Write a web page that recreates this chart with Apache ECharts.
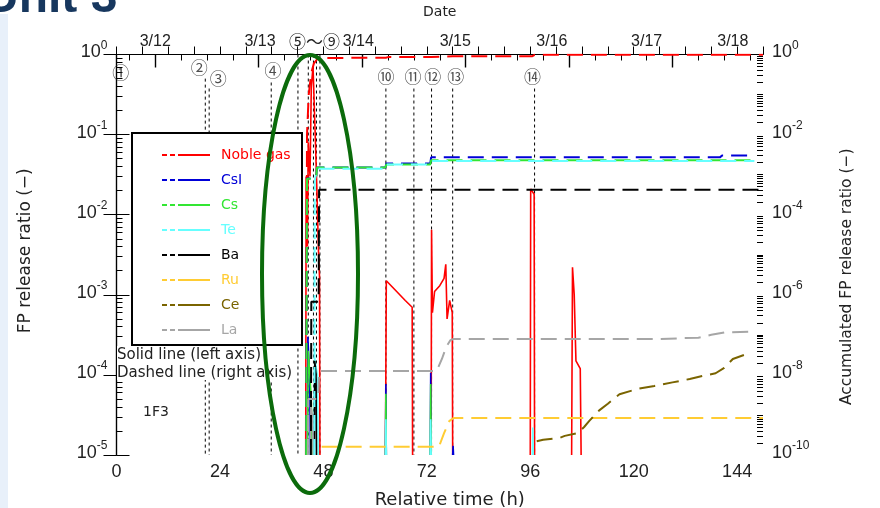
<!DOCTYPE html>
<html>
<head>
<meta charset="utf-8">
<script src="https://cdn.jsdelivr.net/npm/echarts@6/dist/echarts.min.js"></script>
<style>
  html, body { margin: 0; padding: 0; background: #fff; }
  #chart { width: 880px; height: 508px; }
</style>
</head>
<body>
<div id="chart"></div>
<script>
// species shown in the legend
const species = ['Noble gas', 'CsI', 'Cs', 'Te', 'Ba', 'Ru', 'Ce', 'La']
const colors = ['#ff0000', '#0000d8', '#33e633', '#66ffff', '#000000', '#ffcc33', '#7a6400', '#a6a6a6']

// release ratio (left axis, solid) [hour, value], null breaks the line
const nobleRate = [[43.9, 1e-5], [44.0, 0.03], [44.3, 0.004], [44.5, 0.08], [44.9, 0.03], [45.2, 0.4], [45.6, 0.7], [46.0, 0.15], [46.5, 0.02], [46.9, 0.003], [47.1, 0.0017], [47.2, 1e-5], [47.3, null],
  [62.4, 1e-5], [62.6, 1.5e-3], [63.0, 1.5e-3], [65.0, 1.1e-3], [67.0, 8.5e-4], [68.6, 7e-4], [68.7, 1e-5], [68.8, null],
  [73.0, 1e-5], [73.1, 6.5e-3], [73.3, 6e-4], [73.8, 1.1e-3], [75.0, 1.3e-3], [76.0, 1.6e-3], [76.4, 2.4e-3], [76.7, 5e-4], [77.3, 8.5e-4], [77.9, 6e-4], [78.0, 1e-5], [78.1, null],
  [96.0, 1e-5], [96.1, 2.1e-2], [96.9, 1.8e-2], [97.0, 1e-5], [97.1, null],
  [105.6, 1e-5], [105.8, 2.2e-3], [106.2, 1e-3], [106.4, 1e-3], [106.6, 1.5e-4], [107.6, 1.2e-4], [107.8, 1e-5]]
const csiRate = [[44.3, 1e-5], [44.4, 3e-4], [44.8, 1e-4], [45.0, 1e-5], [45.1, null],
  [62.4, 1e-5], [62.5, 7.7e-5], [62.6, 1e-5], [62.7, null],
  [72.8, 1e-5], [72.9, 1.06e-4], [73.0, 1e-5], [73.1, null],
  [78.0, 1e-5], [78.1, 1.3e-5], [78.2, 1e-5]]
const csRate = [[44.3, 1e-5], [44.5, 2e-4], [45.2, 5e-5], [45.4, 1e-5], [45.5, null],
  [62.4, 1e-5], [62.5, 5.8e-5], [62.6, 1e-5], [62.7, null],
  [72.8, 1e-5], [72.9, 7.7e-5], [73.0, 1e-5]]
const teRate = [[45.8, 1e-5], [46.0, 1.6e-4], [46.6, 1e-4], [46.8, 1e-5], [46.9, null],
  [62.4, 1e-5], [62.5, 2.8e-5], [62.6, 1e-5], [62.7, null],
  [72.8, 1e-5], [72.9, 2.8e-5], [73.0, 1e-5], [73.1, null],
  [96.5, 1e-5], [96.6, 2.2e-5], [96.7, 1e-5]]
const baRate = [[45.9, 1e-5], [46.0, 1.5e-4], [46.3, 1e-4], [46.4, 1e-5]]
const ruRate = []
const ceRate = []
const laRate = [[45.0, 1e-5], [45.1, 4e-5], [45.5, 3e-5], [45.6, 1e-5]]

// accumulated release ratio (right axis, dashed)
const nobleCum = [[44.0, 1e-10], [44.2, 0.01], [44.6, 0.1], [45.2, 0.35], [45.8, 0.6], [46.5, 0.75], [47.0, 0.82], [62.5, 0.83], [63.0, 0.86], [73.0, 0.87], [78.0, 0.9], [96.5, 0.91], [97.0, 0.98], [150, 0.98]]
const csiCum = [[44.0, 1e-10], [44.2, 8e-4], [46.3, 8e-4], [46.5, 1.5e-3], [62.4, 1.5e-3], [62.6, 1.9e-3], [72.8, 1.9e-3], [73.0, 2.7e-3], [140, 2.7e-3], [140.5, 3e-3], [148, 3e-3]]
const csCum = [[44.0, 1e-10], [44.2, 7.9e-4], [46.3, 7.9e-4], [46.5, 1.5e-3], [62.4, 1.5e-3], [62.6, 1.8e-3], [72.8, 1.8e-3], [73.0, 2.3e-3], [148, 2.3e-3]]
const teCum = [[45.9, 1e-10], [46.0, 7e-4], [46.5, 1.4e-3], [62.4, 1.4e-3], [62.6, 1.8e-3], [72.8, 1.8e-3], [73.0, 2.2e-3], [148, 2.2e-3]]
const baCum = [[45.1, 1e-10], [45.2, 6.7e-7], [46.9, 6.7e-7], [47.0, 4.2e-4], [149, 4.2e-4]]
const ruCum = [[47.6, 1.6e-10], [74.8, 1.6e-10], [76.0, 3.5e-10], [77.2, 7e-10], [78.2, 8.4e-10], [150, 8.4e-10]]
const ceCum = [[97.5, 2.2e-10], [99, 2.4e-10], [102.8, 2.66e-10], [104, 3e-10], [107, 3.5e-10], [108.5, 5e-10], [109.7, 7.1e-10], [111, 1e-9], [112, 1.3e-9], [114, 1.9e-9], [116.7, 3.3e-9], [121, 4.5e-9], [124.8, 5.3e-9], [129, 6.5e-9], [133, 7.9e-9], [136, 9.4e-9], [139, 1.1e-8], [141, 1.5e-8], [143, 2.5e-8], [146.8, 3.5e-8]]
const laCum = [[44.4, 1e-10], [44.5, 2.5e-9], [46.8, 2.5e-9], [47.0, 1.26e-8], [74.3, 1.26e-8], [75.5, 2.5e-8], [76.5, 5e-8], [77.5, 7.4e-8], [78.2, 7.9e-8], [126, 7.9e-8], [135, 8.5e-8], [138, 1e-7], [141, 1.15e-7], [147.5, 1.2e-7]]

const rates = [nobleRate, csiRate, csRate, teRate, baRate, ruRate, ceRate, laRate]
const cums = [nobleCum, csiCum, csCum, teCum, baCum, ruCum, ceCum, laCum]

// event markers: hour, top of the dashed line (left axis), label
const eventHours = [20.6, 21.5, 35.9, 42.1, 44.5, 45.7, 46.4, 47.2, 62.5, 69.0, 73.1, 78.0, 97.0]
const eventTops = [0.5, 0.376, 0.447, 1, 1, 1, 1, 1, 0.376, 0.376, 0.376, 0.376, 0.376]
const eventLabels = [[1.0, 0.59, '①'], [19.2, 0.69, '②'], [23.6, 0.5, '③'], [36.3, 0.63, '④'],
  [62.5, 0.53, '⑩'], [68.8, 0.53, '⑪'], [73.4, 0.53, '⑫'], [78.7, 0.53, '⑬'], [96.5, 0.53, '⑭']]

// top date axis
const dayStartHours = [9, 33, 57, 81, 105, 129]
const dateLabelHours = [9, 33.3, 56.1, 78.6, 101, 123, 143]
const dateLabels = ['3/12', '3/13', '3/14', '3/15', '3/16', '3/17', '3/18']
const sixHourTicks = [3, 9, 15, 21, 27, 33, 39, 45, 51, 57, 63, 69, 75, 81, 87, 93, 99, 105, 111, 117, 123, 129, 135, 141, 147]

// log axis ticks (minor ones are given as exponents for the overlay axes)
const leftMajor = [1e-5, 1e-4, 1e-3, 1e-2, 1e-1, 1]
const rightMajor = [1e-10, 1e-8, 1e-6, 1e-4, 1e-2, 1]
const leftMinorExp = []
for (let e = -5; e < 0; e++) for (let m = 2; m <= 9; m++) leftMinorExp.push(e + Math.log10(m))
const rightMinorExp = []
for (let e = -10; e < 0; e++) {
  if (e % 2 !== 0) rightMinorExp.push(e)
  for (let m = 2; m <= 9; m++) rightMinorExp.push(e + Math.log10(m))
}

const FONT = 'Liberation Sans'
const WIDE = 'DejaVu Sans'
const CJK = 'Noto Sans CJK JP'

function powLabel(v) {
  const e = Math.round(Math.log10(v))
  return '{b|10}{s|' + (e === 0 ? '0' : '-' + (-e)) + '}'
}
const powRich = {
  b: { fontSize: 18, lineHeight: 22, fontFamily: FONT, color: '#222', verticalAlign: 'bottom' },
  s: { fontSize: 12, lineHeight: 12, fontFamily: FONT, color: '#222', verticalAlign: 'top' }
}

function logAxis(pos, min, ticks, extra) {
  return Object.assign({
    type: 'log',
    logBase: 10,
    position: pos,
    min: min,
    max: 1,
    splitLine: { show: false },
    axisLine: { show: true, lineStyle: { color: '#000', width: 1.2 } },
    axisTick: { show: true, inside: true, length: 13, customValues: ticks, lineStyle: { color: '#000', width: 1 } },
    axisLabel: { show: true, customValues: ticks, formatter: powLabel, rich: powRich, margin: 9, padding: [0, 0, 8, 0] }
  }, extra || {})
}
// plain axis over the exponent range, only used to draw the short log ticks
function minorAxis(pos, minExp, ticks) {
  return {
    type: 'value',
    position: pos,
    min: minExp,
    max: 0,
    splitLine: { show: false },
    axisLine: { show: true, lineStyle: { color: 'rgba(0,0,0,0)' } },
    axisTick: { show: true, inside: true, length: 6, customValues: ticks, lineStyle: { color: '#000', width: 1 } },
    axisLabel: { show: false }
  }
}

const series = []

series.push({
  name: 'events',
  type: 'line',
  xAxisIndex: 0,
  yAxisIndex: 0,
  silent: true,
  symbol: 'none',
  lineStyle: { color: '#000', width: 1, type: [3, 3] },
  data: eventHours.flatMap((h, i) => [[h, eventTops[i]], [h, 1e-5], [h + 0.01, null]]),
  z: 1
})

species.forEach((name, i) => {
  series.push({
    name: name,
    type: 'line',
    xAxisIndex: 0,
    yAxisIndex: 0,
    symbol: 'none',
    color: colors[i],
    itemStyle: { color: colors[i] },
    lineStyle: { color: colors[i], width: 1.6 },
    data: rates[i]
  })
})
species.forEach((name, i) => {
  series.push({
    name: name,
    type: 'line',
    xAxisIndex: 0,
    yAxisIndex: 2,
    symbol: 'none',
    color: colors[i],
    itemStyle: { color: colors[i] },
    lineStyle: { color: colors[i], width: 2, type: [16, 8] },
    data: cums[i]
  })
})

series.push({
  name: 'eventLabels',
  type: 'scatter',
  xAxisIndex: 0,
  yAxisIndex: 0,
  symbolSize: 0,
  silent: true,
  clip: false,
  label: {
    show: true,
    position: 'inside',
    formatter: p => p.data[2],
    fontFamily: CJK,
    fontSize: 17,
    color: '#222'
  },
  data: eventLabels
})

const option = {
  backgroundColor: '#fff',
  animation: false,
  textStyle: { fontFamily: FONT },
  grid: { left: 116.5, right: 117, top: 54.5, bottom: 53, containLabel: false, outerBoundsMode: 'none' },
  legend: {
    left: 162,
    top: 148,
    orient: 'vertical',
    selectedMode: false,
    itemWidth: 48,
    itemHeight: 2,
    itemGap: 11,
    padding: 0,
    z: 10,
    icon: 'path://M0 0H5V2H0Z M8 0H13V2H8Z M16 0H48V2H16Z',
    textStyle: { fontSize: 14, fontFamily: WIDE, padding: [0, 0, 0, 6] },
    data: species.map((s, i) => ({ name: s, itemStyle: { color: colors[i] }, textStyle: { color: colors[i] } }))
  },
  xAxis: [
    {
      type: 'value',
      position: 'bottom',
      min: 0,
      max: 150,
      interval: 6,
      name: 'Relative time (h)',
      nameLocation: 'middle',
      nameGap: 36,
      nameTextStyle: { fontSize: 18, fontFamily: WIDE, color: '#222', padding: [0, 0, 0, 20] },
      splitLine: { show: false },
      axisLine: { lineStyle: { color: '#000', width: 1.2 } },
      axisTick: { inside: true, length: 8, lineStyle: { color: '#000' } },
      axisLabel: { fontSize: 18, color: '#222', margin: 8, formatter: v => (v % 24 === 0 ? String(v) : '') }
    },
    {
      type: 'value',
      position: 'top',
      min: 0,
      max: 150,
      splitLine: { show: false },
      axisLine: { lineStyle: { color: '#000', width: 1.2 } },
      axisTick: { inside: true, length: 6, customValues: sixHourTicks, lineStyle: { color: '#000' } },
      axisLabel: { show: false }
    },
    {
      type: 'value',
      position: 'top',
      min: 0,
      max: 150,
      name: 'Date',
      nameLocation: 'middle',
      nameGap: 35,
      nameTextStyle: { fontSize: 14, fontFamily: WIDE, color: '#222' },
      splitLine: { show: false },
      axisLine: { show: false },
      axisTick: { inside: true, length: 13, customValues: dayStartHours, lineStyle: { color: '#000', width: 1.4 } },
      axisLabel: {
        customValues: dateLabelHours,
        fontSize: 16,
        color: '#222',
        margin: 5,
        formatter: v => {
          let best = 0
          dateLabelHours.forEach((h, i) => { if (Math.abs(h - v) < Math.abs(dateLabelHours[best] - v)) best = i })
          return dateLabels[best]
        }
      }
    }
  ],
  yAxis: [
    logAxis('left', 1e-5, leftMajor, {
      name: 'FP release ratio (−)',
      nameLocation: 'middle',
      nameRotate: 90,
      nameGap: 82,
      nameTextStyle: { fontSize: 17, fontFamily: WIDE, color: '#222', padding: [0, 0, 0, 8] }
    }),
    minorAxis('left', -5, leftMinorExp),
    logAxis('right', 1e-10, rightMajor, {
      name: 'Accumulated FP release ratio (−)',
      nameLocation: 'middle',
      nameRotate: 90,
      nameGap: 76,
      nameTextStyle: { fontSize: 15.5, fontFamily: WIDE, color: '#222', padding: [0, 44, 0, 0] }
    }),
    minorAxis('right', -10, rightMinorExp)
  ],
  graphic: [
    { type: 'rect', z: 0, shape: { x: 0, y: 14, width: 8, height: 494 }, style: { fill: '#e8f0fa' } },
    { type: 'text', z: 0, left: -16, top: -25, style: { text: 'Unit 3', font: 'bold 48px "Liberation Sans"', fill: '#17375e' } },
    { type: 'rect', z: 5, shape: { x: 132, y: 133, width: 170, height: 212 }, style: { fill: '#fff', stroke: '#000', lineWidth: 2 } },
    { type: 'rect', z: 5, shape: { x: 117, y: 346, width: 168, height: 34 }, style: { fill: '#fff' } },
    { type: 'text', z: 6, left: 117, top: 348, style: { text: 'Solid line (left axis)', font: '15px "DejaVu Sans"', fill: '#222' } },
    { type: 'text', z: 6, left: 117, top: 366, style: { text: 'Dashed line (right axis)', font: '15px "DejaVu Sans"', fill: '#222' } },
    { type: 'text', z: 6, left: 143, top: 405, style: { text: '1F3', font: '14px "DejaVu Sans"', fill: '#222' } },
    { type: 'text', z: 6, left: 289, top: 33, style: { text: '⑤〜⑨', font: '17px "Noto Sans CJK JP"', fill: '#222' } },
    { type: 'ellipse', z: 20, shape: { cx: 310, cy: 274, rx: 48, ry: 219 }, style: { fill: null, stroke: '#0b6b0b', lineWidth: 4 } }
  ],
  series: series
}

const chart = echarts.init(document.getElementById('chart'))
chart.setOption(option)
</script>
</body>
</html>
